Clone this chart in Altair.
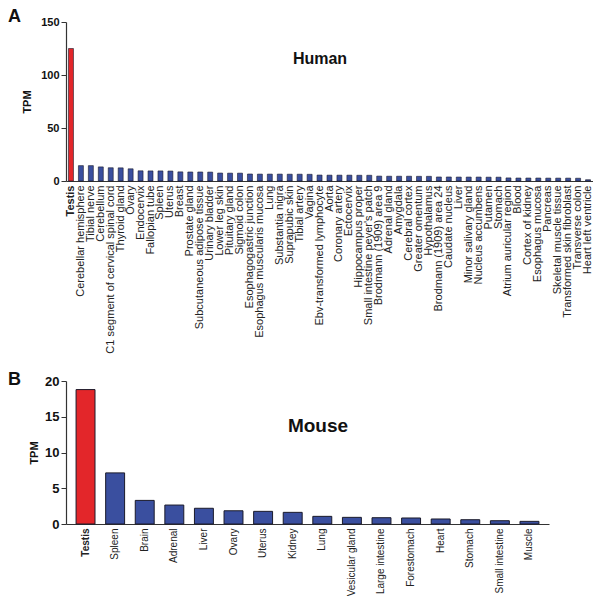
import altair as alt
import pandas as pd

human_tissues = [
    "Testis", "Cerebellar hemisphere", "Tibial nerve", "Cerebellum",
    "C1 segment of cervical spinal cord", "Thyroid gland", "Ovary", "Endocervix",
    "Fallopian tube", "Spleen", "Uterus", "Breast", "Prostate gland",
    "Subcutaneous adipose tissue", "Urinary bladder", "Lower leg skin",
    "Pituitary gland", "Sigmoid colon", "Esophagogastric junction",
    "Esophagus muscularis mucosa", "Lung", "Substantia nigra", "Suprapubic skin",
    "Tibial artery", "Vagina", "Ebv-transformed lymphocyte", "Aorta",
    "Coronary artery", "Ectocervix", "Hippocampus proper",
    "Small intestine peyer's patch", "Brodmann (1909) area 9", "Adrenal gland",
    "Amygdala", "Cerebral cortex", "Greater omentum", "Hypothalamus",
    "Brodmann (1909) area 24", "Caudate nucleus", "Liver", "Minor salivary gland",
    "Nucleus accumbens", "Putamen", "Stomach", "Atrium auricular region", "Blood",
    "Cortex of kidney", "Esophagus mucosa", "Pancreas", "Skeletal muscle tissue",
    "Transformed skin fibroblast", "Transverse colon", "Heart left ventricle",
]
human_tpm = [
    125, 14.5, 14.5, 13.3, 12.5, 12.4, 11.5, 9.6, 9.5, 9.5, 9.4, 8.6, 8.5, 8.5,
    8.4, 7.5, 7.4, 7.4, 6.6, 6.5, 6.5, 6.5, 6.4, 6.4, 6.3, 5.6, 5.5, 5.5, 5.5,
    5.4, 5.4, 4.6, 4.5, 4.5, 4.5, 4.4, 4.4, 3.8, 3.8, 3.7, 3.7, 3.7, 3.6, 3.6,
    2.9, 2.8, 2.8, 2.8, 2.7, 2.7, 2.7, 2.6, 1.2,
]
human_ticks = [0, 50, 100, 150]

mouse_tissues = [
    "Testis", "Spleen", "Brain", "Adrenal", "Liver", "Ovary", "Uterus", "Kidney",
    "Lung", "Vesicular gland", "Large intestine", "Forestomach", "Heart",
    "Stomach", "Small intestine", "Muscle",
]
mouse_tpm = [18.8, 7.15, 3.3, 2.65, 2.2, 1.85, 1.77, 1.63, 1.07, 0.93, 0.88,
             0.84, 0.7, 0.6, 0.46, 0.37]
mouse_ticks = [0, 5, 10, 15, 20]

RED = "#e3262a"
BLUE = "#3a4f9f"
FONT = "Liberation Sans"

hdf = pd.DataFrame({"tissue": human_tissues, "tpm": human_tpm})
mdf = pd.DataFrame({"tissue": mouse_tissues, "tpm": mouse_tpm})

bold_testis = alt.condition("datum.value == 'Testis'", alt.value("bold"), alt.value("normal"))


def panel(df, ticks, dmax, w, h, pin, pout, lab_size, tick_size, title_pad,
          name, name_x, name_y, name_size, letter, letter_y, stroke_w):
    bars = alt.Chart(df).mark_bar(stroke="#1a1a2a", strokeWidth=stroke_w).encode(
        x=alt.X("tissue:N", sort=None, title=None,
                scale=alt.Scale(paddingInner=pin, paddingOuter=pout),
                axis=alt.Axis(labelAngle=-90, labelFontSize=lab_size, labelFont=FONT,
                              labelColor="#222", labelPadding=4, labelLimit=400,
                              ticks=False, domainColor="#333", domainWidth=1.2,
                              labelFontWeight=bold_testis)),
        y=alt.Y("tpm:Q", title="TPM",
                scale=alt.Scale(domain=[0, dmax], nice=False),
                axis=alt.Axis(values=ticks, grid=False, labelFontSize=tick_size,
                              labelFontWeight="bold", labelFont=FONT, labelColor="#111",
                              titleFont=FONT, titleFontSize=11, titleFontWeight="bold",
                              titleColor="#111", titlePadding=title_pad,
                              tickSize=5, tickColor="#333", domainColor="#333",
                              domainWidth=1.2)),
        color=alt.condition("datum.tissue == 'Testis'", alt.value(RED), alt.value(BLUE)),
    )
    name_txt = alt.Chart(pd.DataFrame({"t": [name]})).mark_text(
        font=FONT, fontSize=name_size, fontWeight="bold", color="#111",
        align="center", baseline="middle",
    ).encode(text="t:N", x=alt.value(name_x), y=alt.value(name_y))
    letter_txt = alt.Chart(pd.DataFrame({"t": [letter]})).mark_text(
        font=FONT, fontSize=18, fontWeight="bold", color="#111",
        align="left", baseline="top",
    ).encode(text="t:N", x=alt.value(-58), y=alt.value(letter_y))
    return alt.layer(bars, name_txt, letter_txt).properties(width=w, height=h)


human = panel(hdf, human_ticks, 150, 527, 159, 0.5, 0.25, 11, 11, 8,
              "Human", 254, 37, 16, "A", -14, 0.6)
mouse = panel(mdf, mouse_ticks, 20, 483, 143, 0.36, 0.34, 10, 13, 5,
              "Mouse", 252, 45, 19, "B", -10, 1)

chart = alt.vconcat(human, mouse, spacing=17).properties(padding=0).configure_view(
    stroke=None
)

chart.save("out.html", embed_options={"renderer": "svg", "actions": False})
